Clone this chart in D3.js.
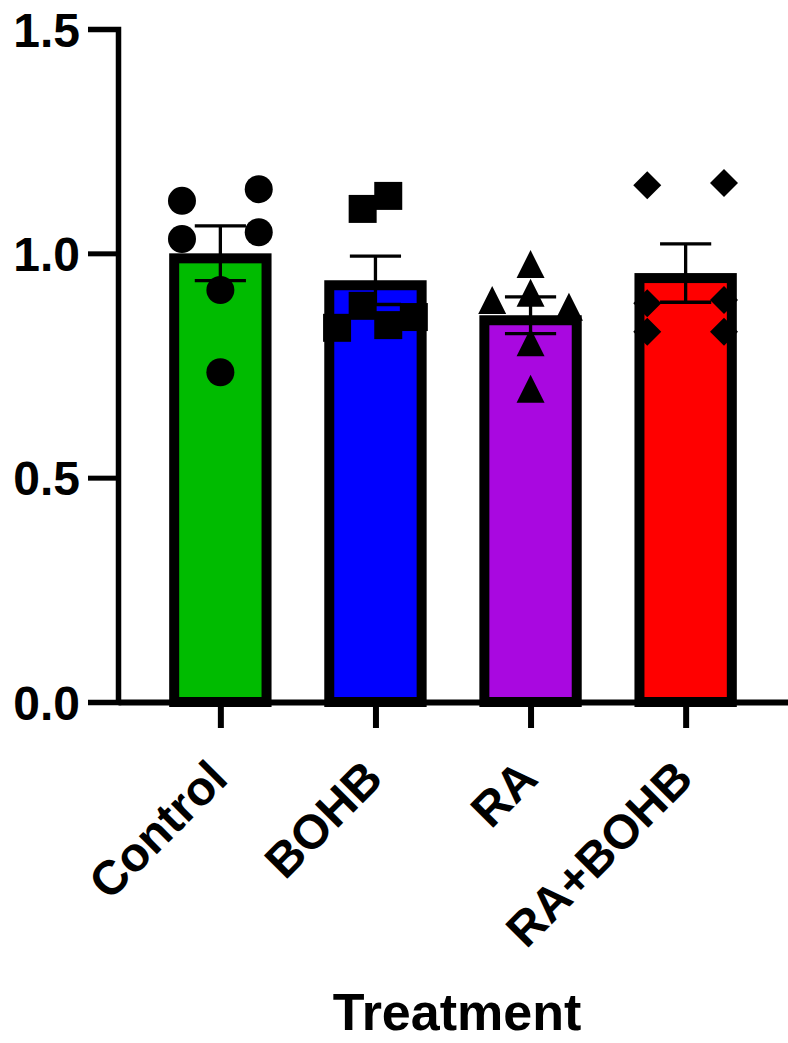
<!DOCTYPE html>
<html>
<head>
<meta charset="utf-8">
<script src="https://cdn.jsdelivr.net/npm/d3@7"></script>
<style>
  html, body { margin: 0; padding: 0; background: #fff; }
  svg { display: block; }
  text { font-family: "Liberation Sans", Arial, sans-serif; font-weight: bold; fill: #000; }
</style>
</head>
<body>
<svg id="chart" width="788" height="1043"></svg>
<script>
// ---- data ----
const categories = ["Control", "BOHB", "RA", "RA+BOHB"];
const barColors = ["#00BB00", "#0000FF", "#A908E0", "#FF0000"];
const means = [1.000, 0.940, 0.862, 0.956];
const sems = [0.061, 0.054, 0.041, 0.065];

const controlValues = [1.117, 1.032, 1.143, 1.047, 0.918, 0.735];
const bohbValues    = [1.128, 1.099, 0.883, 0.834, 0.840, 0.858];
const raValues      = [0.976, 0.912, 0.896, 0.881, 0.802, 0.698];
const raBohbValues  = [1.152, 1.157, 0.889, 0.825, 0.896, 0.825];

// horizontal spread of the replicates, in eighths of a bar width
const controlSlots = [-3, -3, 3, 3, 0, 0];
const bohbSlots    = [1, -1, -1, -3, 1, 3];
const raSlots      = [0, 0, -3, 3, 0, 0];
const raBohbSlots  = [-3, 3, -3, -3, 3, 3];

const yTicks = [0, 0.5, 1.0, 1.5];
const xTitle = "Treatment";

// ---- marker shapes (size = area of the bounding square) ----
const shapeCircle = { draw(ctx, size) { const r = Math.sqrt(size) / 2; ctx.moveTo(r, 0); ctx.arc(0, 0, r, 0, 2 * Math.PI); } };
const shapeSquare = { draw(ctx, size) { const r = Math.sqrt(size) / 2; ctx.rect(-r, -r, 2 * r, 2 * r); } };
const shapeTriangle = { draw(ctx, size) { const r = Math.sqrt(size) / 2; ctx.moveTo(0, -r); ctx.lineTo(r, r); ctx.lineTo(-r, r); ctx.closePath(); } };
const shapeDiamond = { draw(ctx, size) { const r = Math.sqrt(size) / 2; ctx.moveTo(0, -r); ctx.lineTo(r, 0); ctx.lineTo(0, r); ctx.lineTo(-r, 0); ctx.closePath(); } };

const groups = [
  { cat: categories[0], values: controlValues, slots: controlSlots, shape: shapeCircle },
  { cat: categories[1], values: bohbValues,    slots: bohbSlots,    shape: shapeSquare },
  { cat: categories[2], values: raValues,      slots: raSlots,      shape: shapeTriangle },
  { cat: categories[3], values: raBohbValues,  slots: raBohbSlots,  shape: shapeDiamond }
];

// ---- scales ----
const svg = d3.select("#chart");
const x = d3.scalePoint().domain(categories).range([118, 788]).padding(0.66);
const y = d3.scaleLinear().domain([0, 1.5]).range([702, 29]);

const barW = x.step() * 0.66;
const barStroke = 10;
const capW = barW / 2;
const markerSize = 28 * 28;

// ---- bars (outline drawn inside the bar extent) ----
svg.append("g").selectAll("rect")
  .data(categories)
  .join("rect")
  .attr("x", d => x(d) - barW / 2 + barStroke / 2)
  .attr("y", (d, i) => y(means[i]) + barStroke / 2)
  .attr("width", barW - barStroke)
  .attr("height", (d, i) => y(0) - y(means[i]) - barStroke / 2)
  .attr("fill", (d, i) => barColors[i])
  .attr("stroke", "#000")
  .attr("stroke-width", barStroke);

// ---- mean ± SEM ----
svg.append("g").selectAll("path")
  .data(categories)
  .join("path")
  .attr("d", (d, i) => {
    const cx = x(d), hi = y(means[i] + sems[i]), lo = y(means[i] - sems[i]);
    return `M${cx - capW / 2},${hi}H${cx + capW / 2}M${cx},${hi}V${lo}M${cx - capW / 2},${lo}H${cx + capW / 2}`;
  })
  .attr("fill", "none")
  .attr("stroke", "#000")
  .attr("stroke-width", 3.3);

// ---- axes ----
const yAxis = svg.append("g")
  .attr("transform", "translate(118,0)")
  .call(d3.axisLeft(y).tickValues(yTicks).tickSize(30).tickSizeOuter(30)
    .tickPadding(8).tickFormat(d3.format(".1f")))
  .attr("font-family", null).attr("font-size", null);
yAxis.select(".domain").attr("stroke", "#000").attr("stroke-width", 5.5).attr("stroke-linejoin", "miter");
yAxis.selectAll(".tick line").attr("stroke", "#000").attr("stroke-width", 5);
yAxis.selectAll(".tick text").style("font-size", "48px").attr("dy", "0.36em");

const xAxis = svg.append("g")
  .attr("transform", `translate(0,${y(0)})`)
  .call(d3.axisBottom(x).tickSize(26).tickSizeOuter(0))
  .attr("font-family", null).attr("font-size", null);
xAxis.select(".domain").attr("stroke", "#000").attr("stroke-width", 6);
xAxis.selectAll(".tick line").attr("stroke", "#000").attr("stroke-width", 6);
xAxis.selectAll(".tick text")
  .style("font-size", "48px")
  .attr("x", 0).attr("y", 0).attr("dy", 0)
  .attr("text-anchor", "end")
  .attr("transform", "translate(9,79) rotate(-45)");

svg.append("text")
  .attr("x", 457)
  .attr("y", 1030)
  .attr("text-anchor", "middle")
  .style("font-size", "52px")
  .text(xTitle);

// ---- individual replicates ----
groups.forEach(g => {
  const sym = d3.symbol().type(g.shape).size(markerSize);
  svg.append("g").selectAll("path")
    .data(g.values)
    .join("path")
    .attr("transform", (v, i) => `translate(${x(g.cat) + g.slots[i] * barW / 8},${y(v)})`)
    .attr("d", sym())
    .attr("fill", "#000");
});
</script>
</body>
</html>
